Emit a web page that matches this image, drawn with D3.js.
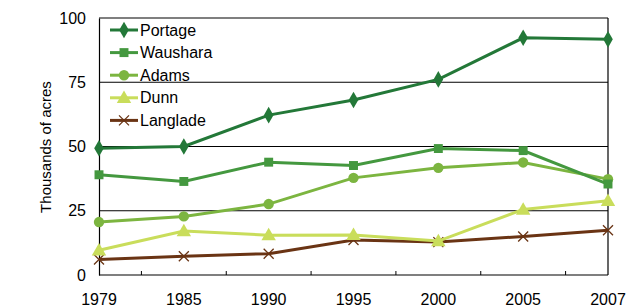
<!DOCTYPE html>
<html>
<head>
<meta charset="utf-8">
<script src="https://cdn.jsdelivr.net/npm/d3@7"></script>
<style>
    body { margin: 0; background: #fff; }
    svg text { font-family: "Liberation Sans", Arial, sans-serif; fill: #000; }
</style>
</head>
<body>
<svg id="chart" width="643" height="307"></svg>
<script>
    'use strict';

    var years = ['1979', '1985', '1990', '1995', '2000', '2005', '2007'];
    var yTicks = [0, 25, 50, 75, 100];
    var countyNames = ['Portage', 'Waushara', 'Adams', 'Dunn', 'Langlade'];

    var portage  = [49.3, 50.0, 62.2, 68.1, 76.1, 92.3, 91.7];
    var waushara = [39.0, 36.4, 43.9, 42.6, 49.2, 48.4, 35.4];
    var adams    = [20.6, 22.8, 27.6, 37.8, 41.7, 43.8, 37.3];
    var dunn     = [9.6, 17.1, 15.5, 15.6, 13.2, 25.5, 28.9];
    var langlade = [6.0, 7.3, 8.3, 13.6, 12.8, 15.0, 17.4];

    var seriesValues = [portage, waushara, adams, dunn, langlade];
    var colors = ['#237838', '#44983f', '#7cb540', '#c9dd5b', '#6a3414'];
    var symbols = ['diamond', 'square', 'circle', 'triangle', 'cross'];

    var margin = {left: 99, right: 35, top: 18, bottom: 32};
    var width = 643, height = 307;

    var svg = d3.select('#chart');

    var x = d3.scalePoint()
        .domain(years)
        .range([margin.left, width - margin.right]);

    var y = d3.scaleLinear()
        .domain([0, 100])
        .range([height - margin.bottom, margin.top]);

    // gridlines
    svg.append('g')
        .selectAll('line')
        .data(yTicks.slice(1))
        .enter()
        .append('line')
        .attr('x1', margin.left)
        .attr('x2', width - margin.right)
        .attr('y1', function(d) { return y(d); })
        .attr('y2', function(d) { return y(d); })
        .attr('stroke', '#000')
        .attr('stroke-width', 1.2);

    // right border
    svg.append('line')
        .attr('x1', width - margin.right)
        .attr('x2', width - margin.right)
        .attr('y1', y(100))
        .attr('y2', y(0))
        .attr('stroke', '#000')
        .attr('stroke-width', 1.2);

    // y axis
    var yAxis = svg.append('g')
        .attr('transform', 'translate(' + margin.left + ',0)')
        .call(d3.axisLeft(y).tickValues(yTicks).tickSize(0).tickPadding(13));
    yAxis.select('.domain').attr('stroke', '#000').attr('stroke-width', 1.2);
    yAxis.selectAll('text').style('font-size', '16px');

    // x axis: labels at points, ticks between categories
    var step = x.step();
    var xAxis = svg.append('g')
        .attr('transform', 'translate(0,' + y(0) + ')');
    xAxis.append('line')
        .attr('x1', margin.left)
        .attr('x2', width - margin.right)
        .attr('stroke', '#000')
        .attr('stroke-width', 1.2);
    xAxis.selectAll('line.tick')
        .data(years.slice(1))
        .enter()
        .append('line')
        .attr('class', 'tick')
        .attr('x1', function(d) { return x(d) - step / 2; })
        .attr('x2', function(d) { return x(d) - step / 2; })
        .attr('y1', 0)
        .attr('y2', -4)
        .attr('stroke', '#000');
    xAxis.selectAll('text')
        .data(years)
        .enter()
        .append('text')
        .attr('x', function(d) { return x(d); })
        .attr('y', 30)
        .attr('text-anchor', 'middle')
        .style('font-size', '16px')
        .text(function(d) { return d; });

    // y label
    svg.append('text')
        .attr('transform', 'translate(51,147) rotate(-90)')
        .attr('text-anchor', 'middle')
        .style('font-size', '15px')
        .text('Thousands of acres');

    var line = d3.line()
        .x(function(d, i) { return x(years[i]); })
        .y(function(d) { return y(d); });

    function drawMarker(g, type, color, cx, cy) {
        if (type === 'cross') {
            g.append('path')
                .attr('d', 'M' + (cx - 5) + ',' + (cy - 5) + 'L' + (cx + 5) + ',' + (cy + 5) +
                    'M' + (cx - 5) + ',' + (cy + 5) + 'L' + (cx + 5) + ',' + (cy - 5))
                .attr('stroke', color)
                .attr('stroke-width', 1.3)
                .attr('fill', 'none');
            return;
        }
        var sym = {diamond: d3.symbolDiamond, square: d3.symbolSquare,
                   circle: d3.symbolCircle, triangle: d3.symbolTriangle}[type];
        var size = {diamond: 80, square: 80, circle: 85, triangle: 90}[type];
        g.append('path')
            .attr('transform', 'translate(' + cx + ',' + (cy + (type === 'triangle' ? 1 : 0)) + ')')
            .attr('d', d3.symbol().type(sym).size(size)())
            .attr('fill', color);
    }

    // series, drawn bottom-up so Portage sits on top
    for (var s = seriesValues.length - 1; s >= 0; s--) {
        var g = svg.append('g');
        g.append('path')
            .datum(seriesValues[s])
            .attr('d', line)
            .attr('fill', 'none')
            .attr('stroke', colors[s])
            .attr('stroke-width', 3);
        seriesValues[s].forEach(function(v, i) {
            drawMarker(g, symbols[s], colors[s], x(years[i]), y(v));
        });
    }

    // legend
    var legend = svg.append('g');
    countyNames.forEach(function(name, i) {
        var ly = 30 + i * 22.6;
        var row = legend.append('g');
        row.append('line')
            .attr('x1', 110)
            .attr('x2', 138)
            .attr('y1', ly)
            .attr('y2', ly)
            .attr('stroke', colors[i])
            .attr('stroke-width', 3);
        drawMarker(row, symbols[i], colors[i], 124, ly);
        row.append('text')
            .attr('x', 140)
            .attr('y', ly + 5.5)
            .style('font-size', '16px')
            .text(name);
    });
</script>
</body>
</html>
